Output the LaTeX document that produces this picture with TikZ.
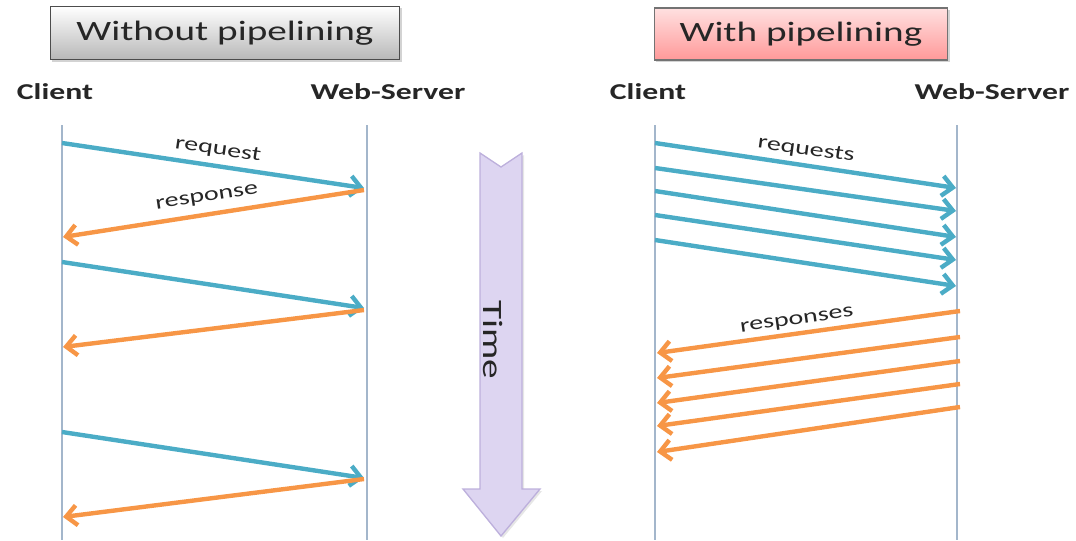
\documentclass[tikz,border=0pt]{standalone}
\usepackage{fontspec}
\setmainfont{Carlito}
\usetikzlibrary{arrows.meta,shadows}
\definecolor{req}{HTML}{4BACC6}
\definecolor{resp}{HTML}{F79646}
\definecolor{life}{HTML}{A3B6CB}
\definecolor{timefill}{HTML}{DDD5F1}
\definecolor{timeedge}{HTML}{BDB0DC}
\definecolor{txt}{HTML}{262626}
\newcommand{\wide}[1]{\scalebox{1.4}[1]{#1}}
\begin{document}
\begin{tikzpicture}[x=0.75pt,y=-0.75pt,
  lifeline/.style={draw=life, line width=1.5pt},
  reqarrow/.style={draw=req, line width=3.3pt, -{Straight Barb[length=8pt,width=15pt]}},
  resparrow/.style={draw=resp, line width=3.3pt, -{Straight Barb[length=8pt,width=15pt]}},
  titlebox/.style={draw=black!70, line width=1pt, text=txt, inner sep=0pt,
    font=\fontsize{21}{25}\selectfont, drop shadow={opacity=0.35, shadow xshift=1.5pt, shadow yshift=-1.5pt}},
  actor/.style={text=txt, font=\fontsize{17}{20}\selectfont\bfseries, inner sep=0pt},
  msglabel/.style={text=txt, font=\fontsize{15}{18}\selectfont, inner sep=0pt}
]
\useasboundingbox (0,0) rectangle (1076,540);

% title boxes
\node[titlebox, top color=white, bottom color=black!28, minimum width=262pt, minimum height=40pt]
  (without) at (225,33) {\wide{Without pipelining}};
\node[titlebox, draw=black!55, top color=red!12, bottom color=red!40, minimum width=220pt, minimum height=39pt]
  (with) at (801,34) {\wide{With pipelining}};

% actors
\node[actor] (cL) at (55,92) {\wide{Client}};
\node[actor] (sL) at (388,92) {\wide{Web-Server}};
\node[actor] (cR) at (648,92) {\wide{Client}};
\node[actor] (sR) at (992,92) {\wide{Web-Server}};

% lifelines
\coordinate (cLt) at (62,125);  \coordinate (cLb) at (62,540);
\coordinate (sLt) at (367,125); \coordinate (sLb) at (367,540);
\coordinate (cRt) at (655,125); \coordinate (cRb) at (655,540);
\coordinate (sRt) at (957,125); \coordinate (sRb) at (957,540);
\draw[lifeline] (cLt) -- (cLb);
\draw[lifeline] (sLt) -- (sLb);
\draw[lifeline] (cRt) -- (cRb);
\draw[lifeline] (sRt) -- (sRb);

% time arrow
\draw[draw=timeedge, fill=timefill, line width=1pt, line join=miter,
      drop shadow={opacity=0.2, shadow xshift=1.5pt, shadow yshift=-1.5pt}]
  (480,153) -- (501,167) -- (522,153) -- (522,489) -- (540,489) -- (501,536)
  -- (463,489) -- (480,489) -- cycle;
\node[text=txt, font=\fontsize{21}{25}\selectfont, rotate=-90, inner sep=0pt]
  (time) at (493,340) {\wide{Time}};

% without pipelining messages
\coordinate (a1s) at (62,143);  \coordinate (a1e) at (364,188);
\coordinate (b1s) at (364,190); \coordinate (b1e) at (63,237);
\coordinate (a2s) at (62,262);  \coordinate (a2e) at (364,308);
\coordinate (b2s) at (364,310); \coordinate (b2e) at (63,347);
\coordinate (a3s) at (62,432);  \coordinate (a3e) at (364,478);
\coordinate (b3s) at (364,479); \coordinate (b3e) at (63,517);
\draw[reqarrow] (a1s) -- (a1e);
\draw[resparrow] (b1s) -- (b1e);
\draw[reqarrow] (a2s) -- (a2e);
\draw[resparrow] (b2s) -- (b2e);
\draw[reqarrow] (a3s) -- (a3e);
\draw[resparrow] (b3s) -- (b3e);
\node[msglabel, rotate=-8.5] (lreq) at (218,150) {\wide{request}};
\node[msglabel, rotate=8.8] (lresp) at (207,198) {\wide{response}};

% with pipelining messages
\coordinate (r1s) at (655,143); \coordinate (r1e) at (956,188);
\coordinate (r2s) at (655,168); \coordinate (r2e) at (956,211);
\coordinate (r3s) at (655,191); \coordinate (r3e) at (956,237);
\coordinate (r4s) at (655,215); \coordinate (r4e) at (956,260);
\coordinate (r5s) at (655,240); \coordinate (r5e) at (956,286);
\foreach \i in {1,...,5} {\draw[reqarrow] (r\i s) -- (r\i e);}
\coordinate (p1s) at (960,311); \coordinate (p1e) at (657,353);
\coordinate (p2s) at (960,337); \coordinate (p2e) at (657,378);
\coordinate (p3s) at (960,361); \coordinate (p3e) at (657,403);
\coordinate (p4s) at (960,384); \coordinate (p4e) at (657,426);
\coordinate (p5s) at (960,407); \coordinate (p5e) at (657,452);
\foreach \i in {1,...,5} {\draw[resparrow] (p\i s) -- (p\i e);}
\node[msglabel, rotate=-8] (lreqs) at (806,150) {\wide{requests}};
\node[msglabel, rotate=8] (lresps) at (797,321) {\wide{responses}};
\end{tikzpicture}
\end{document}
